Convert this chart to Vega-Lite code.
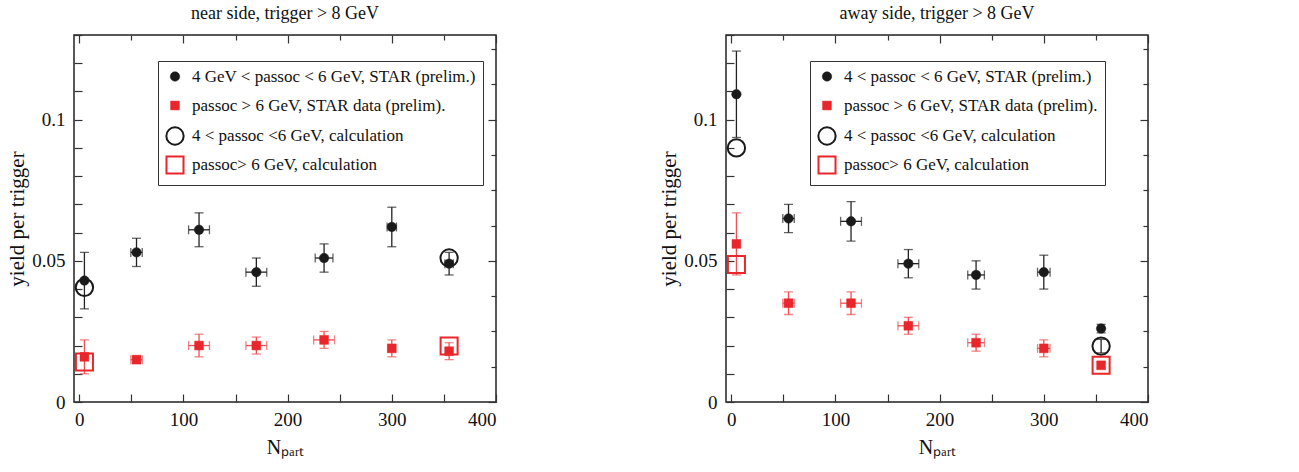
{
  "$schema": "https://vega.github.io/schema/vega-lite/v6.json",
  "padding": {"left": 6, "top": 4, "right": 5, "bottom": 5},
  "background": "white",
  "datasets": {
    "pts": [
      {"panel": "near", "series": "STAR 4-6", "npart": 5, "yield": 0.043, "yerr": 0.010, "xerr": 0},
      {"panel": "near", "series": "STAR 4-6", "npart": 55, "yield": 0.053, "yerr": 0.005, "xerr": 5.5},
      {"panel": "near", "series": "STAR 4-6", "npart": 115, "yield": 0.061, "yerr": 0.006, "xerr": 10},
      {"panel": "near", "series": "STAR 4-6", "npart": 170, "yield": 0.046, "yerr": 0.005, "xerr": 10},
      {"panel": "near", "series": "STAR 4-6", "npart": 235, "yield": 0.051, "yerr": 0.005, "xerr": 8.5},
      {"panel": "near", "series": "STAR 4-6", "npart": 300, "yield": 0.062, "yerr": 0.007, "xerr": 4.5},
      {"panel": "near", "series": "STAR 4-6", "npart": 355, "yield": 0.049, "yerr": 0.004, "xerr": 4},
      {"panel": "near", "series": "STAR >6", "npart": 5, "yield": 0.016, "yerr": 0.006, "xerr": 0},
      {"panel": "near", "series": "STAR >6", "npart": 55, "yield": 0.015, "yerr": 0.0012, "xerr": 5.5},
      {"panel": "near", "series": "STAR >6", "npart": 115, "yield": 0.020, "yerr": 0.004, "xerr": 10},
      {"panel": "near", "series": "STAR >6", "npart": 170, "yield": 0.020, "yerr": 0.003, "xerr": 10},
      {"panel": "near", "series": "STAR >6", "npart": 235, "yield": 0.022, "yerr": 0.003, "xerr": 10},
      {"panel": "near", "series": "STAR >6", "npart": 300, "yield": 0.019, "yerr": 0.003, "xerr": 3.5},
      {"panel": "near", "series": "STAR >6", "npart": 355, "yield": 0.018, "yerr": 0.003, "xerr": 0},
      {"panel": "near", "series": "calc 4-6", "npart": 5, "yield": 0.0406, "yerr": 0, "xerr": 0},
      {"panel": "near", "series": "calc 4-6", "npart": 355, "yield": 0.051, "yerr": 0, "xerr": 0},
      {"panel": "near", "series": "calc >6", "npart": 5, "yield": 0.0142, "yerr": 0, "xerr": 0},
      {"panel": "near", "series": "calc >6", "npart": 355, "yield": 0.0198, "yerr": 0, "xerr": 0},
      {"panel": "away", "series": "STAR 4-6", "npart": 5, "yield": 0.109, "yerr": 0.0153, "xerr": 0},
      {"panel": "away", "series": "STAR 4-6", "npart": 55, "yield": 0.065, "yerr": 0.005, "xerr": 5.5},
      {"panel": "away", "series": "STAR 4-6", "npart": 115, "yield": 0.064, "yerr": 0.007, "xerr": 10},
      {"panel": "away", "series": "STAR 4-6", "npart": 170, "yield": 0.049, "yerr": 0.005, "xerr": 10},
      {"panel": "away", "series": "STAR 4-6", "npart": 235, "yield": 0.045, "yerr": 0.005, "xerr": 8},
      {"panel": "away", "series": "STAR 4-6", "npart": 300, "yield": 0.046, "yerr": 0.006, "xerr": 6},
      {"panel": "away", "series": "STAR 4-6", "npart": 355, "yield": 0.026, "yerr": 0.0015, "xerr": 0},
      {"panel": "away", "series": "STAR >6", "npart": 5, "yield": 0.056, "yerr": 0.011, "xerr": 0},
      {"panel": "away", "series": "STAR >6", "npart": 55, "yield": 0.035, "yerr": 0.004, "xerr": 5.5},
      {"panel": "away", "series": "STAR >6", "npart": 115, "yield": 0.035, "yerr": 0.004, "xerr": 10},
      {"panel": "away", "series": "STAR >6", "npart": 170, "yield": 0.027, "yerr": 0.003, "xerr": 10},
      {"panel": "away", "series": "STAR >6", "npart": 235, "yield": 0.021, "yerr": 0.003, "xerr": 8},
      {"panel": "away", "series": "STAR >6", "npart": 300, "yield": 0.019, "yerr": 0.003, "xerr": 6},
      {"panel": "away", "series": "STAR >6", "npart": 355, "yield": 0.013, "yerr": 0.001, "xerr": 0},
      {"panel": "away", "series": "calc 4-6", "npart": 5, "yield": 0.090, "yerr": 0, "xerr": 0},
      {"panel": "away", "series": "calc 4-6", "npart": 355, "yield": 0.0198, "yerr": 0.0024, "xerr": 0},
      {"panel": "away", "series": "calc >6", "npart": 5, "yield": 0.0487, "yerr": 0, "xerr": 0},
      {"panel": "away", "series": "calc >6", "npart": 355, "yield": 0.013, "yerr": 0, "xerr": 0}
    ]
  },
  "hconcat": [
    {
      "width": 422,
      "height": 367,
      "title": "near side, trigger > 8 GeV",
      "data": {"name": "pts"},
      "transform": [{"filter": "datum.panel == 'near'"}],
      "layer": [
        {
          "layer": [
            {
              "transform": [{"filter": "datum.yerr > 0"}],
              "mark": {"type": "errorbar", "ticks": true, "size": 9, "thickness": 1.3},
              "encoding": {
                "x": {"field": "npart", "type": "quantitative", "title": "Nₚₐᵣₜ", "scale": {"domain": [-5, 400], "nice": false, "zero": false}},
                "y": {"field": "yield", "type": "quantitative", "title": "yield per trigger", "scale": {"domain": [0, 0.13], "nice": false}},
                "yError": {"field": "yerr"},
                "color": {"field": "series", "type": "nominal", "legend": null, "scale": {"domain": ["STAR 4-6", "STAR >6", "calc 4-6", "calc >6"], "range": ["#222222", "#ee5053", "#222222", "#ee5053"]}}
              }
            },
            {
              "transform": [{"filter": "datum.xerr > 0"}],
              "mark": {"type": "errorbar", "ticks": true, "size": 9, "thickness": 1.3},
              "encoding": {
                "x": {"field": "npart", "type": "quantitative", "title": "Nₚₐᵣₜ", "scale": {"domain": [-5, 400], "nice": false, "zero": false}},
                "xError": {"field": "xerr"},
                "y": {"field": "yield", "type": "quantitative", "title": "yield per trigger", "scale": {"domain": [0, 0.13], "nice": false}},
                "color": {"field": "series", "type": "nominal", "legend": null, "scale": {"domain": ["STAR 4-6", "STAR >6", "calc 4-6", "calc >6"], "range": ["#222222", "#ee5053", "#222222", "#ee5053"]}}
              }
            },
            {
              "mark": {"type": "point", "opacity": 1},
              "encoding": {
                "x": {"field": "npart", "type": "quantitative", "title": "Nₚₐᵣₜ", "scale": {"domain": [-5, 400], "nice": false, "zero": false}},
                "y": {"field": "yield", "type": "quantitative", "title": "yield per trigger", "scale": {"domain": [0, 0.13], "nice": false}},
                "shape": {"field": "series", "type": "nominal", "scale": {"domain": ["STAR 4-6", "STAR >6", "calc 4-6", "calc >6"], "range": ["circle", "square", "circle", "square"]}, "legend": {"title": null, "labelExpr": "datum.label == 'STAR 4-6' ? '4 GeV < passoc < 6 GeV, STAR (prelim.)' : datum.label == 'STAR >6' ? 'passoc > 6 GeV, STAR data (prelim).' : datum.label == 'calc 4-6' ? '4 < passoc <6 GeV, calculation' : 'passoc> 6 GeV, calculation'"}},
                "fill": {"field": "series", "type": "nominal", "scale": {"domain": ["STAR 4-6", "STAR >6", "calc 4-6", "calc >6"], "range": ["#1a1a1a", "#e8262b", "transparent", "transparent"]}, "legend": {"title": null, "labelExpr": "datum.label == 'STAR 4-6' ? '4 GeV < passoc < 6 GeV, STAR (prelim.)' : datum.label == 'STAR >6' ? 'passoc > 6 GeV, STAR data (prelim).' : datum.label == 'calc 4-6' ? '4 < passoc <6 GeV, calculation' : 'passoc> 6 GeV, calculation'"}},
                "stroke": {"field": "series", "type": "nominal", "scale": {"domain": ["STAR 4-6", "STAR >6", "calc 4-6", "calc >6"], "range": ["#1a1a1a", "#e8262b", "#1a1a1a", "#e8262b"]}, "legend": {"title": null, "labelExpr": "datum.label == 'STAR 4-6' ? '4 GeV < passoc < 6 GeV, STAR (prelim.)' : datum.label == 'STAR >6' ? 'passoc > 6 GeV, STAR data (prelim).' : datum.label == 'calc 4-6' ? '4 < passoc <6 GeV, calculation' : 'passoc> 6 GeV, calculation'"}},
                "size": {"field": "series", "type": "nominal", "scale": {"type": "ordinal", "domain": ["STAR 4-6", "STAR >6", "calc 4-6", "calc >6"], "range": [90, 78, 300, 290]}, "legend": {"title": null, "labelExpr": "datum.label == 'STAR 4-6' ? '4 GeV < passoc < 6 GeV, STAR (prelim.)' : datum.label == 'STAR >6' ? 'passoc > 6 GeV, STAR data (prelim).' : datum.label == 'calc 4-6' ? '4 < passoc <6 GeV, calculation' : 'passoc> 6 GeV, calculation'"}},
                "strokeWidth": {"field": "series", "type": "nominal", "scale": {"type": "ordinal", "domain": ["STAR 4-6", "STAR >6", "calc 4-6", "calc >6"], "range": [0.5, 0.5, 2, 2]}, "legend": {"title": null, "labelExpr": "datum.label == 'STAR 4-6' ? '4 GeV < passoc < 6 GeV, STAR (prelim.)' : datum.label == 'STAR >6' ? 'passoc > 6 GeV, STAR data (prelim).' : datum.label == 'calc 4-6' ? '4 < passoc <6 GeV, calculation' : 'passoc> 6 GeV, calculation'"}}
              }
            }
          ]
        },
        {
          "mark": {"type": "point", "opacity": 0},
          "encoding": {
            "x": {"field": "npart", "type": "quantitative", "scale": {"domain": [-5, 400], "nice": false, "zero": false}, "axis": {"orient": "top", "labels": false, "title": null, "values": [0, 50, 100, 150, 200, 250, 300, 350, 400], "tickSize": {"condition": {"test": "datum.value % 100 != 0", "value": -5}, "value": -8}}},
            "y": {"field": "yield", "type": "quantitative", "scale": {"domain": [0, 0.13], "nice": false}, "axis": {"orient": "right", "labels": false, "title": null, "values": [0, 0.0125, 0.025, 0.0375, 0.05, 0.0625, 0.075, 0.0875, 0.1, 0.1125, 0.125], "tickSize": {"condition": {"test": "abs(datum.value*20 - round(datum.value*20)) > 0.000001", "value": -5}, "value": -8}}}
          }
        }
      ],
      "resolve": {"axis": {"x": "independent", "y": "independent"}}
    },
    {
      "width": 422,
      "height": 367,
      "title": "away side, trigger > 8 GeV",
      "data": {"name": "pts"},
      "transform": [{"filter": "datum.panel == 'away'"}],
      "layer": [
        {
          "layer": [
            {
              "transform": [{"filter": "datum.yerr > 0"}],
              "mark": {"type": "errorbar", "ticks": true, "size": 9, "thickness": 1.3},
              "encoding": {
                "x": {"field": "npart", "type": "quantitative", "title": "Nₚₐᵣₜ", "scale": {"domain": [-5, 400], "nice": false, "zero": false}},
                "y": {"field": "yield", "type": "quantitative", "title": "yield per trigger", "scale": {"domain": [0, 0.13], "nice": false}},
                "yError": {"field": "yerr"},
                "color": {"field": "series", "type": "nominal", "legend": null, "scale": {"domain": ["STAR 4-6", "STAR >6", "calc 4-6", "calc >6"], "range": ["#222222", "#ee5053", "#222222", "#ee5053"]}}
              }
            },
            {
              "transform": [{"filter": "datum.xerr > 0"}],
              "mark": {"type": "errorbar", "ticks": true, "size": 9, "thickness": 1.3},
              "encoding": {
                "x": {"field": "npart", "type": "quantitative", "title": "Nₚₐᵣₜ", "scale": {"domain": [-5, 400], "nice": false, "zero": false}},
                "xError": {"field": "xerr"},
                "y": {"field": "yield", "type": "quantitative", "title": "yield per trigger", "scale": {"domain": [0, 0.13], "nice": false}},
                "color": {"field": "series", "type": "nominal", "legend": null, "scale": {"domain": ["STAR 4-6", "STAR >6", "calc 4-6", "calc >6"], "range": ["#222222", "#ee5053", "#222222", "#ee5053"]}}
              }
            },
            {
              "mark": {"type": "point", "opacity": 1},
              "encoding": {
                "x": {"field": "npart", "type": "quantitative", "title": "Nₚₐᵣₜ", "scale": {"domain": [-5, 400], "nice": false, "zero": false}},
                "y": {"field": "yield", "type": "quantitative", "title": "yield per trigger", "scale": {"domain": [0, 0.13], "nice": false}},
                "shape": {"field": "series", "type": "nominal", "scale": {"domain": ["STAR 4-6", "STAR >6", "calc 4-6", "calc >6"], "range": ["circle", "square", "circle", "square"]}, "legend": {"title": null, "labelExpr": "datum.label == 'STAR 4-6' ? '4 < passoc < 6 GeV, STAR (prelim.)' : datum.label == 'STAR >6' ? 'passoc > 6 GeV, STAR data (prelim).' : datum.label == 'calc 4-6' ? '4 < passoc <6 GeV, calculation' : 'passoc> 6 GeV, calculation'"}},
                "fill": {"field": "series", "type": "nominal", "scale": {"domain": ["STAR 4-6", "STAR >6", "calc 4-6", "calc >6"], "range": ["#1a1a1a", "#e8262b", "transparent", "transparent"]}, "legend": {"title": null, "labelExpr": "datum.label == 'STAR 4-6' ? '4 < passoc < 6 GeV, STAR (prelim.)' : datum.label == 'STAR >6' ? 'passoc > 6 GeV, STAR data (prelim).' : datum.label == 'calc 4-6' ? '4 < passoc <6 GeV, calculation' : 'passoc> 6 GeV, calculation'"}},
                "stroke": {"field": "series", "type": "nominal", "scale": {"domain": ["STAR 4-6", "STAR >6", "calc 4-6", "calc >6"], "range": ["#1a1a1a", "#e8262b", "#1a1a1a", "#e8262b"]}, "legend": {"title": null, "labelExpr": "datum.label == 'STAR 4-6' ? '4 < passoc < 6 GeV, STAR (prelim.)' : datum.label == 'STAR >6' ? 'passoc > 6 GeV, STAR data (prelim).' : datum.label == 'calc 4-6' ? '4 < passoc <6 GeV, calculation' : 'passoc> 6 GeV, calculation'"}},
                "size": {"field": "series", "type": "nominal", "scale": {"type": "ordinal", "domain": ["STAR 4-6", "STAR >6", "calc 4-6", "calc >6"], "range": [90, 78, 300, 290]}, "legend": {"title": null, "labelExpr": "datum.label == 'STAR 4-6' ? '4 < passoc < 6 GeV, STAR (prelim.)' : datum.label == 'STAR >6' ? 'passoc > 6 GeV, STAR data (prelim).' : datum.label == 'calc 4-6' ? '4 < passoc <6 GeV, calculation' : 'passoc> 6 GeV, calculation'"}},
                "strokeWidth": {"field": "series", "type": "nominal", "scale": {"type": "ordinal", "domain": ["STAR 4-6", "STAR >6", "calc 4-6", "calc >6"], "range": [0.5, 0.5, 2, 2]}, "legend": {"title": null, "labelExpr": "datum.label == 'STAR 4-6' ? '4 < passoc < 6 GeV, STAR (prelim.)' : datum.label == 'STAR >6' ? 'passoc > 6 GeV, STAR data (prelim).' : datum.label == 'calc 4-6' ? '4 < passoc <6 GeV, calculation' : 'passoc> 6 GeV, calculation'"}}
              }
            }
          ]
        },
        {
          "mark": {"type": "point", "opacity": 0},
          "encoding": {
            "x": {"field": "npart", "type": "quantitative", "scale": {"domain": [-5, 400], "nice": false, "zero": false}, "axis": {"orient": "top", "labels": false, "title": null, "values": [0, 50, 100, 150, 200, 250, 300, 350, 400], "tickSize": {"condition": {"test": "datum.value % 100 != 0", "value": -5}, "value": -8}}},
            "y": {"field": "yield", "type": "quantitative", "scale": {"domain": [0, 0.13], "nice": false}, "axis": {"orient": "right", "labels": false, "title": null, "values": [0, 0.0125, 0.025, 0.0375, 0.05, 0.0625, 0.075, 0.0875, 0.1, 0.1125, 0.125], "tickSize": {"condition": {"test": "abs(datum.value*20 - round(datum.value*20)) > 0.000001", "value": -5}, "value": -8}}}
          }
        }
      ],
      "resolve": {"axis": {"x": "independent", "y": "independent"}}
    }
  ],
  "spacing": 160,
  "resolve": {"legend": {"shape": "independent", "fill": "independent", "stroke": "independent", "size": "independent", "strokeWidth": "independent"}},
  "config": {
    "font": "Liberation Serif",
    "view": {"stroke": "#222222", "strokeWidth": 1.5},
    "axis": {
      "domain": false,
      "grid": false,
      "labelFont": "Liberation Serif",
      "labelFontSize": 19,
      "labelColor": "#111111",
      "titleFont": "Liberation Serif",
      "titleFontSize": 20,
      "titleFontWeight": "normal",
      "titleColor": "#111111",
      "tickColor": "#333333",
      "tickWidth": 1.2
    },
    "axisBottom": {
      "values": [0, 50, 100, 150, 200, 250, 300, 350, 400],
      "format": "d",
      "labelExpr": "datum.value % 100 == 0 ? datum.label : ''",
      "tickSize": -8,
      "labelPadding": 16,
      "titlePadding": 8
    },
    "axisLeft": {
      "values": [0, 0.0125, 0.025, 0.0375, 0.05, 0.0625, 0.075, 0.0875, 0.1, 0.1125, 0.125],
      "format": "~g",
      "labelExpr": "abs(datum.value*20 - round(datum.value*20)) < 0.000001 ? datum.label : ''",
      "tickSize": -8,
      "labelPadding": 17,
      "titlePadding": 4,
      "titleFontSize": 21
    },
    "title": {"font": "Liberation Serif", "fontSize": 18, "fontWeight": "normal", "color": "#111111", "offset": 11},
    "legend": {
      "orient": "none",
      "legendX": 84,
      "legendY": 26,
      "strokeColor": "#333333",
      "fillColor": "white",
      "padding": 7,
      "rowPadding": 3,
      "gridAlign": "all",
      "labelFont": "Liberation Serif",
      "labelFontSize": 17,
      "labelColor": "#111111",
      "labelOffset": 7,
      "labelLimit": 400
    }
  }
}
